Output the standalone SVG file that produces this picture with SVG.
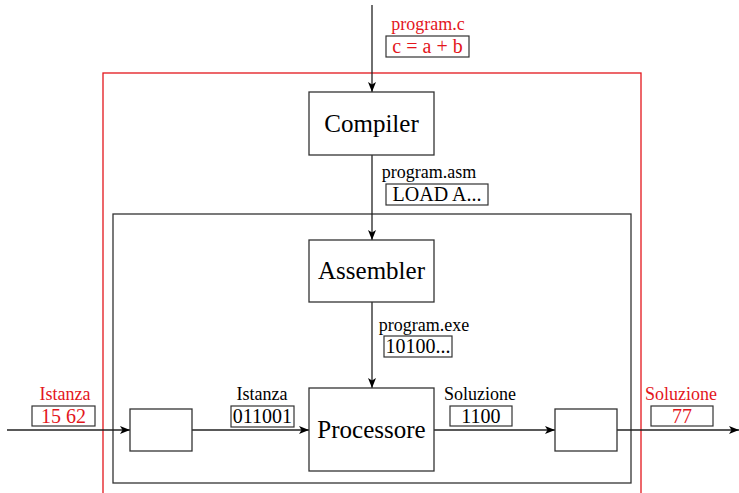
<svg xmlns="http://www.w3.org/2000/svg" width="739" height="493" viewBox="0 0 739 493">
<style>
.box{fill:#fff;stroke:#333;stroke-width:1.3}
.lbl{fill:none;stroke:#333;stroke-width:1.2}
.ln{fill:none;stroke:#222;stroke-width:1.3}
text{font-family:"Liberation Serif","Times New Roman",serif}
.big{font-size:25px;fill:#000}
.s{font-size:18px;fill:#000}
.v{font-size:20px;fill:#000}
.red{fill:#e3161c}
</style>
<defs>
<marker id="ah" markerWidth="10" markerHeight="8" refX="10" refY="4" orient="auto" markerUnits="userSpaceOnUse">
<path d="M0,0 L10,4 L0,8 L2.5,4 Z" fill="#000"/>
</marker>
</defs>
<rect id="outer" x="103" y="73" width="538" height="440" fill="none" stroke="#e3161c" stroke-width="1.3"/>
<rect id="inner" x="113" y="214" width="518" height="269" fill="none" stroke="#333" stroke-width="1.3"/>
<g id="connectors">
<line class="ln" x1="372" y1="5" x2="372" y2="92" marker-end="url(#ah)"/>
<line class="ln" x1="372" y1="155" x2="372" y2="240" marker-end="url(#ah)"/>
<line class="ln" x1="372" y1="302" x2="372" y2="388" marker-end="url(#ah)"/>
<line class="ln" x1="7" y1="430" x2="130" y2="430" marker-end="url(#ah)"/>
<line class="ln" x1="192" y1="430" x2="309" y2="430" marker-end="url(#ah)"/>
<line class="ln" x1="434" y1="430" x2="555" y2="430" marker-end="url(#ah)"/>
<line class="ln" x1="617" y1="430" x2="739" y2="430" marker-end="url(#ah)"/>
</g>
<g id="compiler"><rect class="box" x="309" y="92" width="125" height="63"/><text class="big" x="371.5" y="132" text-anchor="middle">Compiler</text></g>
<g id="assembler"><rect class="box" x="309" y="240" width="125" height="62"/><text class="big" x="371.5" y="279" text-anchor="middle">Assembler</text></g>
<g id="processore"><rect class="box" x="309" y="388" width="125" height="83"/><text class="big" x="371.5" y="438" text-anchor="middle">Processore</text></g>
<g id="left-box"><rect class="box" x="130" y="409" width="62" height="42"/></g>
<g id="right-box"><rect class="box" x="555" y="409" width="62" height="42"/></g>
<g id="label-program-c"><text class="s red" x="428" y="30" text-anchor="middle">program.c</text><rect class="lbl" x="386" y="36" width="83" height="21"/><text class="v red" x="427.5" y="53" text-anchor="middle">c = a + b</text></g>
<g id="label-program-asm"><text class="s" x="429" y="178" text-anchor="middle">program.asm</text><rect class="lbl" x="386" y="184" width="102" height="21"/><text class="v" x="437" y="201" text-anchor="middle">LOAD A...</text></g>
<g id="label-program-exe"><text class="s" x="424" y="331" text-anchor="middle">program.exe</text><rect class="lbl" x="384" y="336" width="68" height="21"/><text class="v" x="418" y="353" text-anchor="middle">10100...</text></g>
<g id="label-istanza-in"><text class="s red" x="65" y="400" text-anchor="middle">Istanza</text><rect class="lbl" x="32" y="406" width="63" height="20"/><text class="v red" x="63.5" y="423" text-anchor="middle">15 62</text></g>
<g id="label-istanza"><text class="s" x="262" y="400" text-anchor="middle">Istanza</text><rect class="lbl" x="231" y="406" width="63" height="21"/><text class="v" x="262.5" y="423" text-anchor="middle">011001</text></g>
<g id="label-soluzione"><text class="s" x="480" y="400" text-anchor="middle">Soluzione</text><rect class="lbl" x="450" y="406" width="62" height="20"/><text class="v" x="481" y="423" text-anchor="middle">1100</text></g>
<g id="label-soluzione-out"><text class="s red" x="681" y="400" text-anchor="middle">Soluzione</text><rect class="lbl" x="651" y="406" width="62" height="20"/><text class="v red" x="682" y="423" text-anchor="middle">77</text></g>
</svg>
